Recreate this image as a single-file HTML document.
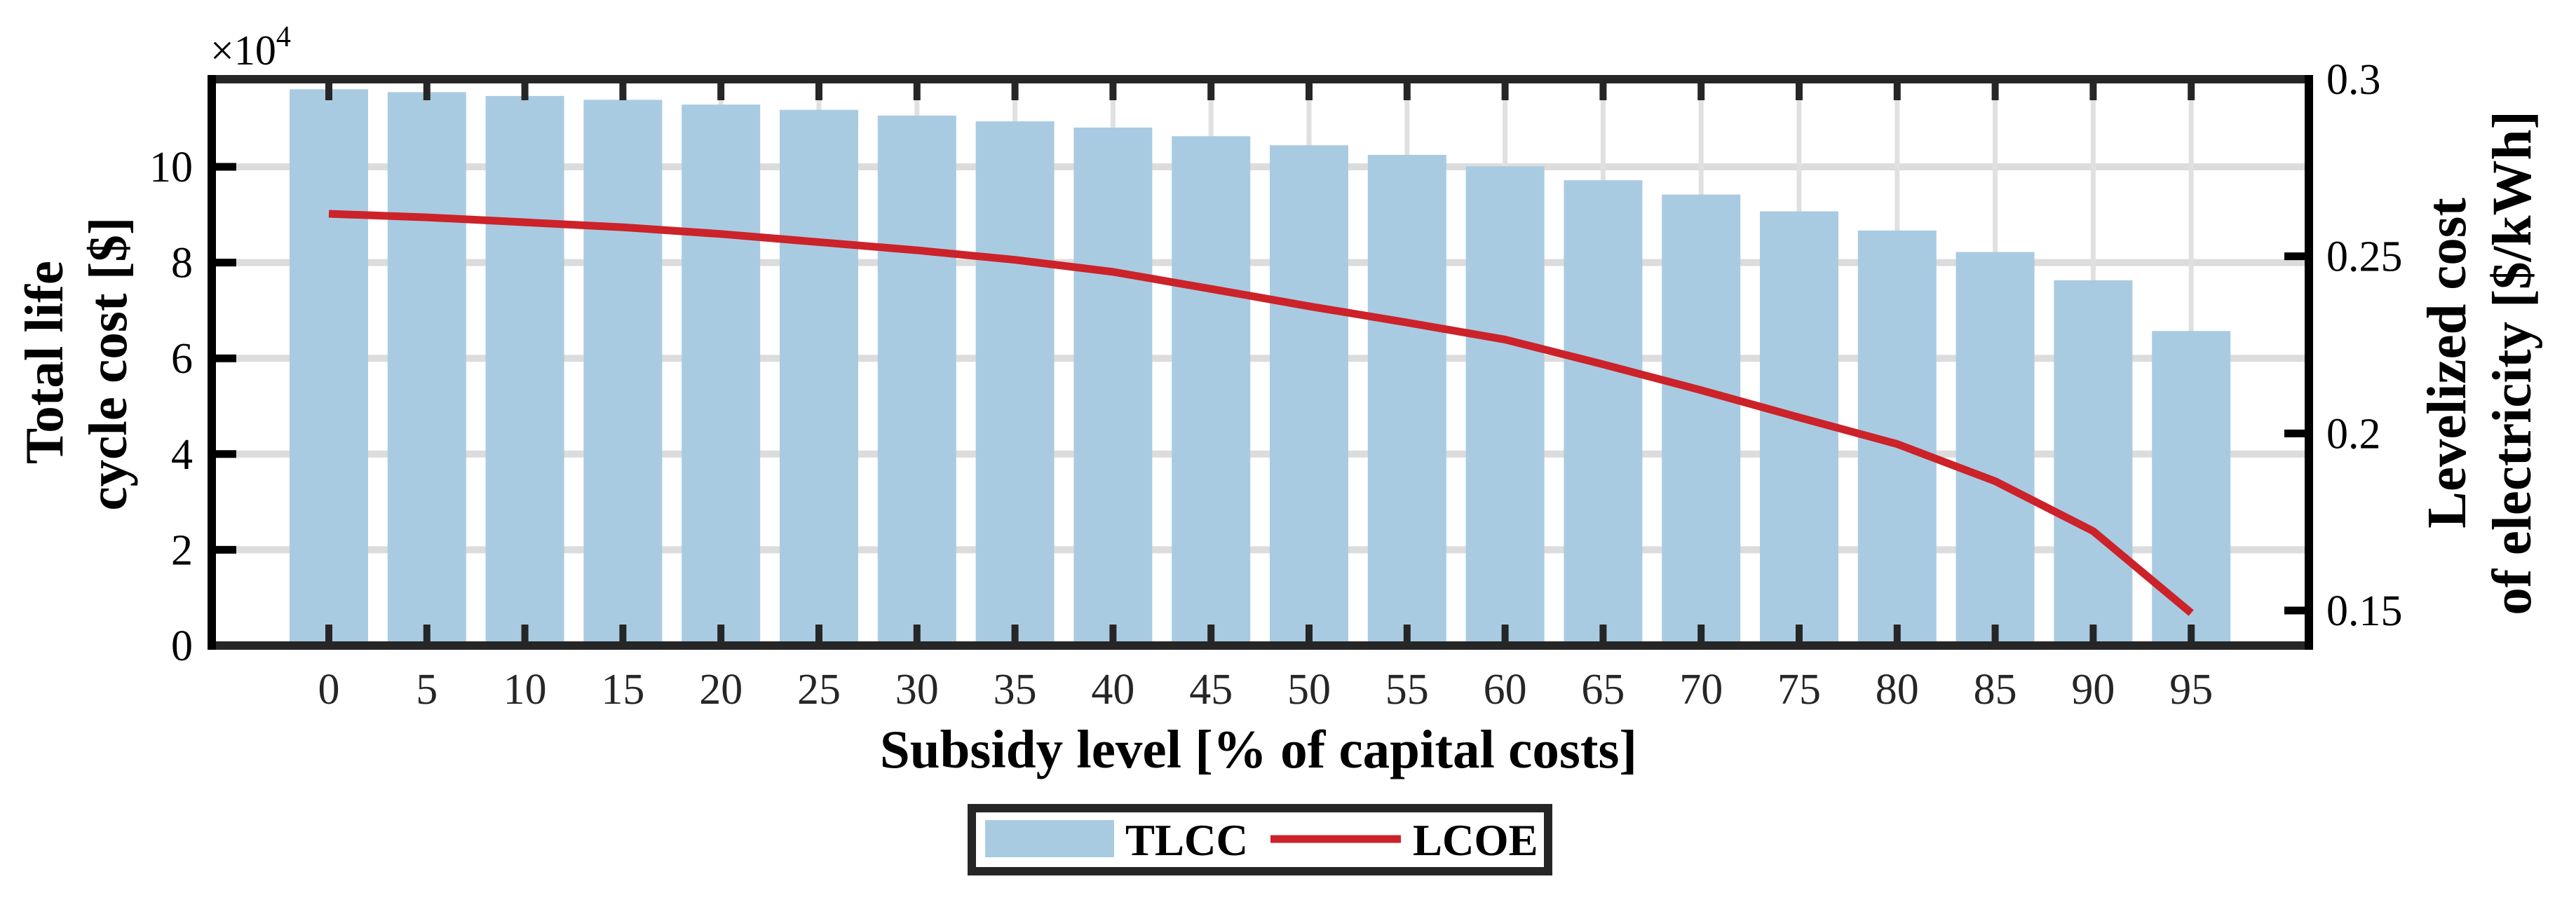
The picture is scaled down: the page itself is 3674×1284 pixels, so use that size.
<!DOCTYPE html>
<html><head><meta charset="utf-8"><style>
html,body{margin:0;padding:0;background:#fff;}
svg{display:block;font-family:"Liberation Serif",serif;}
</style></head><body>
<svg id="chart" width="3674" height="1284" viewBox="0 0 3674 1284">
<g id="grid"></g>
<g id="bars"></g>
<g id="line"></g>
<g id="axes"></g>
<text x="300" y="92" font-size="60">×10<tspan dy="-26" font-size="42">4</tspan></text>
<text x="1795" y="1095" font-size="77" font-weight="bold" text-anchor="middle">Subsidy level [% of capital costs]</text>
<text transform="translate(89,517) rotate(-90)" font-size="77" font-weight="bold" text-anchor="middle">Total life</text>
<text transform="translate(180,519) rotate(-90)" font-size="77" font-weight="bold" text-anchor="middle">cycle cost [$]</text>
<text transform="translate(3516,518) rotate(-90)" font-size="79" font-weight="bold" text-anchor="middle">Levelized cost</text>
<text transform="translate(3609,518) rotate(-90)" font-size="79" font-weight="bold" text-anchor="middle">of electricity [$/kWh]</text>
<g>
<rect x="1386" y="1153" width="822" height="90" fill="#fff" stroke="#262626" stroke-width="12"/>
<rect x="1405" y="1170" width="184" height="53" fill="#a9cbe2"/>
<text x="1605" y="1220" font-size="63" font-weight="bold">TLCC</text>
<line x1="1812" y1="1197" x2="1998" y2="1197" stroke="#cc2229" stroke-width="11"/>
<text x="2015" y="1220" font-size="63" font-weight="bold">LCOE</text>
</g>
</svg>
<script>
const categories=[0,5,10,15,20,25,30,35,40,45,50,55,60,65,70,75,80,85,90,95];
const tlcc=[11.62,11.56,11.48,11.40,11.30,11.19,11.07,10.95,10.82,10.64,10.45,10.25,10.01,9.72,9.42,9.07,8.67,8.22,7.63,6.57];
const lcoe=[0.262,0.261,0.2596,0.2582,0.2563,0.254,0.2517,0.249,0.2456,0.2408,0.2359,0.2313,0.2265,0.2195,0.2122,0.2045,0.197,0.1865,0.1724,0.1493];
const yTicks=[0,2,4,6,8,10];
const y2Ticks=[0.15,0.2,0.25,0.3];
const y2TickLabels=["0.15","0.2","0.25","0.3"];

const NS="http://www.w3.org/2000/svg";
const L=302,R=3293,T=113,B=921;
const x=i=>469+i*139.8;
const y=v=>B-(v-0)/(11.83-0)*(B-T);
const y2=v=>B-(v-0.1401)/(0.3-0.1401)*(B-T);
function mk(tag,attrs,parent){const e=document.createElementNS(NS,tag);for(const k in attrs)e.setAttribute(k,attrs[k]);parent.appendChild(e);return e;}
const grid=document.getElementById('grid'),bars=document.getElementById('bars'),lineG=document.getElementById('line'),axes=document.getElementById('axes');
yTicks.forEach(t=>{const g=mk('line',{x1:L,x2:R,y1:y(t),y2:y(t),stroke:'#dcdcdc','stroke-width':10},grid);

});
categories.forEach((c,i)=>{const g=mk('line',{x1:x(i),x2:x(i),y1:T,y2:B,stroke:'#e0e0e0','stroke-width':7},grid);

});
categories.forEach((c,i)=>{const r=mk('rect',{x:x(i)-56,y:y(tlcc[i]),width:112,height:B-y(tlcc[i]),fill:'#a9cbe2'},bars);

});
const pl=mk('polyline',{points:categories.map((c,i)=>x(i)+','+y2(lcoe[i])).join(' '),fill:'none',stroke:'#cc2229','stroke-width':11,'stroke-linejoin':'round'},lineG);


categories.forEach((c,i)=>{
const a=mk('line',{x1:x(i),x2:x(i),y1:B,y2:B-30,stroke:'#262626','stroke-width':10},axes);


const b=mk('line',{x1:x(i),x2:x(i),y1:T,y2:T+30,stroke:'#262626','stroke-width':10},axes);


const t=mk('text',{x:x(i),y:1004,'font-size':62,'text-anchor':'middle',fill:'#262626'},axes);t.textContent=c;

});
yTicks.forEach(v=>{
const a=mk('line',{x1:L,x2:L+35,y1:y(v),y2:y(v),stroke:'#000','stroke-width':11},axes);


const t=mk('text',{x:275,y:y(v)+21,'font-size':62,'text-anchor':'end'},axes);t.textContent=v;

});
y2Ticks.forEach((v,i)=>{
const a=mk('line',{x1:R-35,x2:R,y1:y2(v),y2:y2(v),stroke:'#000','stroke-width':11},axes);


const t=mk('text',{x:3318,y:y2(v)+21,'font-size':62},axes);t.textContent=y2TickLabels[i];

});
const frame=[[L,T,R,T,'#262626'],[L,B,R,B,'#262626'],[L,T-6,L,B+6,'#000'],[R,T-6,R,B+6,'#000']];
frame.forEach(f=>{const l=mk('line',{x1:f[0],y1:f[1],x2:f[2],y2:f[3],stroke:f[4],'stroke-width':12},axes);

});
</script>
</body></html>
